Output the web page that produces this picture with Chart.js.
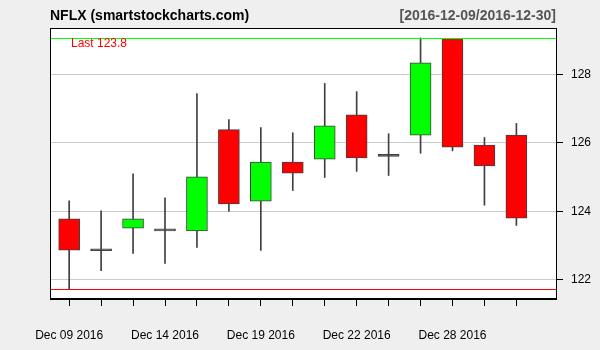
<!DOCTYPE html>
<html>
<head>
<meta charset="utf-8">
<script src="https://cdn.jsdelivr.net/npm/chart.js@4/dist/chart.umd.min.js"></script>
<style>
  html, body { margin: 0; padding: 0; background: #efefef; }
</style>
</head>
<body>
<canvas id="chart" width="600" height="350"></canvas>
<script>
// 日付（取引日）
const dates = ['2016-12-09', '2016-12-12', '2016-12-13', '2016-12-14', '2016-12-15',
               '2016-12-16', '2016-12-19', '2016-12-20', '2016-12-21', '2016-12-22',
               '2016-12-23', '2016-12-27', '2016-12-28', '2016-12-29', '2016-12-30'];
// 四本値
const opens  = [123.78, 122.85, 123.51, 123.43, 123.43, 126.39, 124.30, 125.44, 125.53, 126.82, 125.61, 126.23, 129.05, 125.94, 126.23];
const highs  = [124.31, 124.02, 125.10, 124.40, 127.44, 126.68, 126.45, 126.30, 127.74, 127.50, 126.27, 129.07, 129.05, 126.16, 126.57];
const lows   = [121.74, 122.27, 122.77, 122.48, 122.95, 124.00, 122.86, 124.61, 124.99, 125.17, 125.05, 125.70, 125.77, 124.18, 123.59];
const closes = [122.87, 122.85, 123.78, 123.43, 125.01, 124.22, 125.44, 125.12, 126.50, 125.56, 125.61, 128.34, 125.88, 125.33, 123.80];
// 軸ラベル
const tickLabels = ['Dec 09 2016', '', '', 'Dec 14 2016', '', '', 'Dec 19 2016', '', '',
                    'Dec 22 2016', '', '', 'Dec 28 2016', '', ''];
const yTicks = [122, 124, 126, 128];

const FONT = "'Liberation Sans', Arial, sans-serif";
Chart.defaults.font.family = FONT;

// 陽線は緑、陰線は赤、同値（十字線）は線の色
const bodyColors = opens.map((o, i) => {
  if (closes[i] === o) return '#404040';
  return closes[i] > o ? '#00ff00' : '#ff0000';
});

// 背景・枠・タイトルなど
const decorPlugin = {
  id: 'decor',
  beforeDraw(chart) {
    const { ctx, chartArea: a } = chart;
    ctx.save();
    ctx.fillStyle = '#efefef';
    ctx.fillRect(0, 0, chart.width, chart.height);
    ctx.fillStyle = '#ffffff';
    ctx.fillRect(a.left, a.top, a.right - a.left, a.bottom - a.top);
    ctx.restore();
  },
  afterDatasetsDraw(chart) {
    const { ctx, chartArea: a, scales } = chart;
    const yHi = Math.round(scales.y.getPixelForValue(Math.max(...highs))) + 0.5;
    const yLo = Math.round(scales.y.getPixelForValue(Math.min(...lows))) + 0.5;
    ctx.save();
    ctx.lineWidth = 1;
    ctx.strokeStyle = '#00ff00';
    ctx.beginPath(); ctx.moveTo(a.left, yHi); ctx.lineTo(a.right, yHi); ctx.stroke();
    ctx.strokeStyle = '#ff0000';
    ctx.beginPath(); ctx.moveTo(a.left, yLo); ctx.lineTo(a.right, yLo); ctx.stroke();
    // 最終値
    ctx.fillStyle = '#ff0000';
    ctx.font = '12px ' + FONT;
    ctx.textBaseline = 'alphabetic';
    ctx.fillText('Last ' + closes[closes.length - 1].toFixed(1), 71, 47);
    ctx.restore();
  },
  afterDraw(chart) {
    const { ctx, chartArea: a } = chart;
    ctx.save();
    ctx.strokeStyle = '#000';
    ctx.lineWidth = 1;
    ctx.strokeRect(Math.round(a.left) + 0.5, Math.round(a.top) + 0.5,
                   Math.round(a.right - a.left), Math.round(a.bottom - a.top) - 1);
    ctx.font = 'bold 14px ' + FONT;
    ctx.textBaseline = 'alphabetic';
    ctx.fillStyle = '#000';
    ctx.textAlign = 'left';
    ctx.fillText('NFLX (smartstockcharts.com)', 50, 20);
    ctx.fillStyle = '#555555';
    ctx.textAlign = 'right';
    ctx.fillText('[' + dates[0] + '/' + dates[dates.length - 1] + ']', 556, 20);
    ctx.restore();
  }
};

const ctx = document.getElementById('chart').getContext('2d');
const chart = new Chart(ctx, {
  type: 'bar',
  data: {
    datasets: [
      {
        // 実体
        data: dates.map((d, i) => ({ x: i, y: [opens[i], closes[i]] })),
        backgroundColor: bodyColors,
        borderColor: '#404040',
        borderWidth: 1,
        borderSkipped: false,
        barThickness: 21,
        minBarLength: 2,
        grouped: false,
        order: 0
      },
      {
        // ヒゲ
        data: dates.map((d, i) => ({ x: i, y: [lows[i], highs[i]] })),
        backgroundColor: '#404040',
        borderWidth: 0,
        barThickness: 1,
        grouped: false,
        order: 1
      }
    ]
  },
  options: {
    responsive: false,
    animation: false,
    devicePixelRatio: 1,
    layout: { padding: { left: 50, top: 28, right: 0, bottom: 0 } },
    plugins: {
      legend: { display: false },
      tooltip: { enabled: false }
    },
    scales: {
      x: {
        type: 'linear',
        min: -0.6,
        max: 15.24,
        offset: false,
        grid: { offset: false, drawOnChartArea: false, tickLength: 7, color: '#000', tickColor: '#000' },
        border: { display: true, color: '#000' },
        ticks: {
          autoSkip: false,
          maxRotation: 0,
          padding: 22,
          color: '#000',
          font: { size: 12 },
          callback: (v) => tickLabels[v] || ''
        },
        afterBuildTicks: (s) => { s.ticks = dates.map((d, i) => ({ value: i })); },
        afterFit: (s) => { s.height = 51; }
      },
      y: {
        type: 'linear',
        position: 'right',
        min: 121.44,
        max: 129.36,
        grid: { color: '#cccccc', tickColor: '#000', tickLength: 7 },
        border: { display: true, color: '#000' },
        ticks: { padding: 8, color: '#000', font: { size: 12 } },
        afterBuildTicks: (s) => { s.ticks = yTicks.map(v => ({ value: v })); },
        afterFit: (s) => { s.width = 44; }
      }
    }
  },
  plugins: [decorPlugin]
});
</script>
</body>
</html>
